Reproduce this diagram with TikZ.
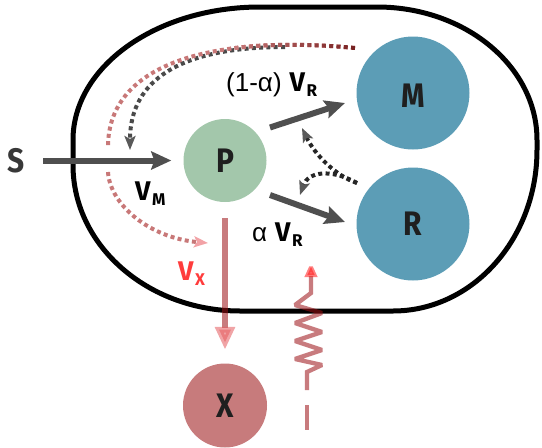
\documentclass[tikz,border=0pt]{standalone}
\usepackage{fontspec}
\setmainfont{Fira Sans}
\newfontfamily\labfont[FakeStretch=0.88]{Fira Sans}
\newfontfamily\regfont{Liberation Sans}
\usetikzlibrary{arrows.meta}
\definecolor{pgreen}{HTML}{A3C7AB}
\definecolor{mblue}{HTML}{5C9DB6}
\definecolor{xred}{HTML}{C77B7C}
\definecolor{agray}{HTML}{4F4F4F}
\definecolor{vxred}{HTML}{FF3C3C}
\definecolor{zline}{RGB}{155,15,20}
\definecolor{vxtip}{RGB}{228,90,93}
\definecolor{ztip}{RGB}{255,24,24}
\definecolor{dotpink}{HTML}{C87878}
\definecolor{dotdark}{HTML}{741E1E}
\definecolor{dottip}{HTML}{F2A2A6}
\definecolor{dotgray}{HTML}{4A4A4A}
\definecolor{dotgrayd}{HTML}{262626}
\definecolor{graytip}{HTML}{595959}
\newcommand{\mysub}[1]{\kern1.5pt\raisebox{-5pt}{\fontsize{17}{17}\selectfont\bfseries #1}}
\newcommand{\bigV}{{\fontsize{27}{27}\selectfont\bfseries V}}
\begin{document}
\begin{tikzpicture}[x=1pt,y=-1pt,
  ball/.style={circle,inner sep=0pt,font=\labfont\bfseries\fontsize{34}{34}\selectfont,text=black!88},
  bigarrow/.style={line width=6pt,draw=agray,-{Stealth[length=20pt,width=18pt,inset=3pt]}},
  dots/.style={line width=4pt,dash pattern=on 4pt off 3.3pt},
  dottipr/.style={-{Stealth[length=14pt,width=11pt,inset=3pt,color=dottip]}},
  dottipg/.style={-{Stealth[length=14pt,width=11pt,inset=3pt,color=graytip]}},
  lab/.style={inner sep=0pt,anchor=base west,font=\fontsize{26}{26}\selectfont},
  pinkline/.style={draw=zline,opacity=0.55},
]
\useasboundingbox (0,0) rectangle (542,448);

% cell outline
\draw[line width=5pt] (73,165) -- (73,140) .. controls (73,66.5) and (156.7,7) .. (260,7)
  -- (377,7) .. controls (465.4,7) and (537,66.5) .. (537,140)
  -- (537,150) .. controls (537,238.9) and (472.5,311) .. (393,311)
  -- (240,311) .. controls (147.8,311) and (73,245.6) .. (73,165) -- cycle;

% pools
\node[ball,fill=pgreen,minimum size=83pt] (P) at (225,160.5) {P};
\node[ball,fill=mblue,minimum size=113pt] (M) at (413,93) {\raisebox{-3pt}[\height][0pt]{M}};
\node[ball,fill=mblue,minimum size=113pt] (R) at (413,224) {R};
\node[ball,fill=xred,minimum size=84pt] (X) at (225,405.5) {X};
\node[font=\labfont\bfseries\fontsize{34}{34}\selectfont,text=black!78,inner sep=0pt] (S) at (16.4,160.5) {S};

% labels
\node[lab] (lpm) at (226,91.7) {{\regfont (1-α)}\hspace{8pt}\bigV\mysub{R}};
\node[lab] (lvm) at (135,200) {\bigV\mysub{M}};
\node[lab] (lar) at (252,241.7) {{\regfont α}\hspace{8pt}\bigV\mysub{R}};
\node[lab,text=vxred] (lvx) at (178,280) {\bigV\mysub{X}};

% flux arrows
\draw[bigarrow] ([xshift=18pt]S.east) -- ([xshift=-12pt]P.west);
\draw[bigarrow] ([shift={(45,-33)}]P.center) -- ([shift={(-68,10)}]M.center);
\draw[bigarrow] ([shift={(45,34.5)}]P.center) -- ([shift={(-68,-2)}]R.center);

% excretion flux
\draw[pinkline,line width=6.3pt,-{Triangle[length=23pt,width=19pt,color=vxtip]}]
  ([shift={(0,16)}]P.south) -- ([shift={(0,-13.5)}]X.north);

% zigzag input
\coordinate (zbot) at (307,390);
\coordinate (ztop) at (311,262);
\draw[pinkline,line width=4.3pt,line join=miter,miter limit=2,-{Triangle[length=15pt,width=12pt,color=ztip]}]
  (zbot) -- (307,372) -- (322,365) -- (295,359) -- (322,350) -- (295,341) -- (322,332)
  -- (295,323) -- (322,313) -- (295,305) -- (311,293) -- (ztop);
\draw[pinkline,line width=4.3pt] (307,405) -- (307,430);

% dotted regulation from M
\coordinate (mstart) at ([shift={(-58,-45)}]M.center);
\coordinate (graystart) at (285,47);
\draw[dots,draw=dotgray,dottipg] (graystart) .. controls (180,47) and (130,80) .. (130,150);
\draw[dots,draw=dotpink] (mstart) .. controls (220,35) and (108,60) .. (108,147);
\foreach \i in {0,...,12}{
  \pgfmathsetmacro{\pct}{\i*8}
  \begin{scope}
    \clip (230+10*\i,0) rectangle (240+10*\i,110);
    \draw[dots,draw=dotdark!\pct!dotpink] (mstart) .. controls (220,35) and (108,60) .. (108,147);
  \end{scope}
}
\coordinate (vxin) at (208,243);
\draw[dots,draw=dotpink,dottipr] (108,172) .. controls (110,205) and (150,238) .. (vxin);

% dotted regulation from R
\coordinate (rstart) at ([shift={(-56,-41)}]R.center);
\draw[dots,draw=dotgrayd,dottipg] (rstart) .. controls (336,176) and (315,155) .. (302,128);
\draw[dots,draw=dotgrayd,dottipg] (rstart) .. controls (330,168) and (308,172) .. (300,195);
\end{tikzpicture}
\end{document}
